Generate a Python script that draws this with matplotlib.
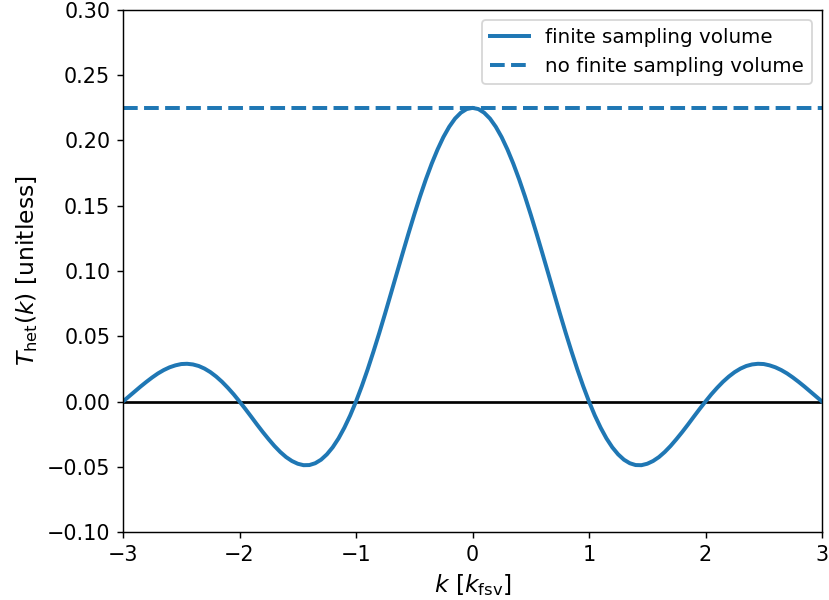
import numpy as np
import matplotlib
matplotlib.use("Agg")
import matplotlib.pyplot as plt

# values, k from -3 to 3 in steps of 0.05 (units of k_fsv)
k = np.round(np.arange(-3.0, 3.0001, 0.05), 2)
T_het = [0.0, 0.0038, 0.0076, 0.0114, 0.0150, 0.0184, 0.0215, 0.0241, 0.0262, 0.0277,
         0.0287, 0.0289, 0.0284, 0.0272, 0.0252, 0.0225, 0.0191, 0.0151, 0.0105, 0.0055,
         0.0, -0.0057, -0.0116, -0.0176, -0.0234, -0.0289, -0.0341, -0.0387, -0.0426, -0.0456,
         -0.0477, -0.0488, -0.0487, -0.0473, -0.0446, -0.0405, -0.0351, -0.0283, -0.0201, -0.0107,
         0.0, 0.0118, 0.0246, 0.0383, 0.0526, 0.0675, 0.0828, 0.0982, 0.1135, 0.1286,
         0.1432, 0.1572, 0.1703, 0.1823, 0.1931, 0.2026, 0.2105, 0.2168, 0.2213, 0.2241,
         0.225,
         0.2241, 0.2213, 0.2168, 0.2105, 0.2026, 0.1931, 0.1823, 0.1703, 0.1572, 0.1432,
         0.1286, 0.1135, 0.0982, 0.0828, 0.0675, 0.0526, 0.0383, 0.0246, 0.0118, 0.0,
         -0.0107, -0.0201, -0.0283, -0.0351, -0.0405, -0.0446, -0.0473, -0.0487, -0.0488, -0.0477,
         -0.0456, -0.0426, -0.0387, -0.0341, -0.0289, -0.0234, -0.0176, -0.0116, -0.0057, 0.0,
         0.0055, 0.0105, 0.0151, 0.0191, 0.0225, 0.0252, 0.0272, 0.0284, 0.0289, 0.0287,
         0.0277, 0.0262, 0.0241, 0.0215, 0.0184, 0.0150, 0.0114, 0.0076, 0.0038, 0.0]
T_no_fsv = 0.225

fig = plt.figure(figsize=(829 / 130, 600 / 130), dpi=130)
ax = fig.add_axes([123 / 829, 68 / 600, 699 / 829, 522 / 600])

ax.axhline(0, color="black", lw=1.5)
ax.plot(k, T_het, color="C0", lw=2.2, label="finite sampling volume")
ax.axhline(T_no_fsv, color="C0", lw=2.2, ls="--", label="no finite sampling volume")

ax.set_xlim(-3, 3)
ax.set_ylim(-0.10, 0.30)
ax.set_yticks(np.arange(-0.10, 0.301, 0.05))
ax.set_xticks([-3, -2, -1, 0, 1, 2, 3])
ax.tick_params(labelsize=11.5)
ax.set_xlabel(r"$k$ [$k_{\rm fsv}$]", fontsize=13)
ax.set_ylabel(r"$T_{\rm het}(k)$ [unitless]", fontsize=13)
ax.legend(loc="upper right", fontsize=11)

fig.savefig("out.png", dpi=130)
